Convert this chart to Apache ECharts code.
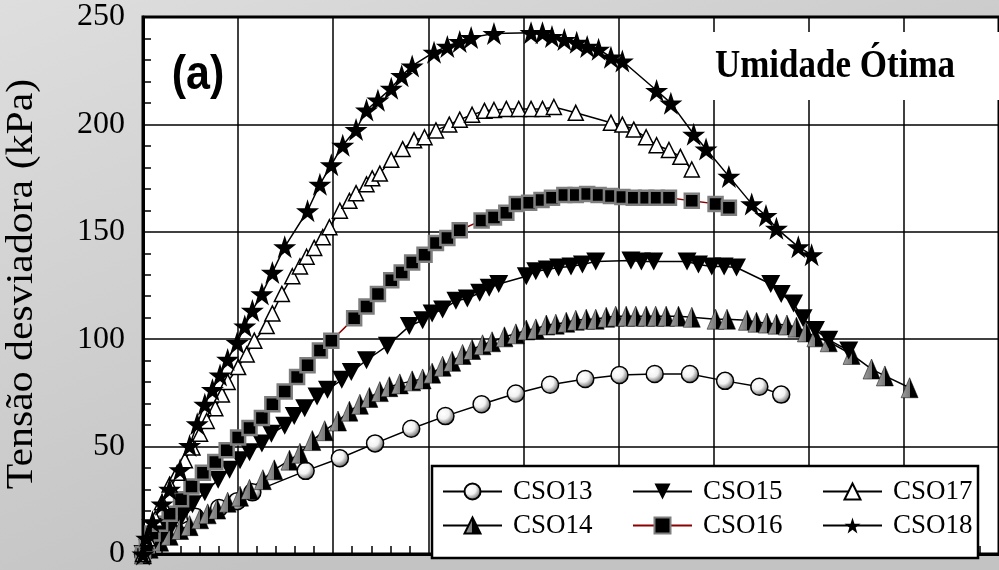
<!DOCTYPE html>
<html>
<head>
<meta charset="utf-8">
<script src="https://cdn.jsdelivr.net/npm/echarts@6/dist/echarts.min.js"></script>
<style>
html,body{margin:0;padding:0;}
#chart{width:999px;height:570px;}
</style>
</head>
<body>
<div id="chart"></div>
<script>
// Tensão desviadora (kPa) vs. deformação (eixo X sem rótulos visíveis)
const seriesNames = ['CSO13','CSO14','CSO15','CSO16','CSO17','CSO18'];
const yTicks = [0, 50, 100, 150, 200, 250];

const cso13 = [[0,0],[0.04,1.4],[0.28,10.9],[0.55,17.3],[0.80,21.4],[0.99,24.6],[1.15,28.7],[1.71,38.7],[2.07,44.6],[2.44,51.5],[2.82,58.3],[3.18,64.2],[3.56,69.7],[3.92,74.7],[4.28,78.8],[4.65,81.5],[5.01,83.3],[5.38,83.8],[5.75,83.8],[6.12,80.6],[6.48,77.9],[6.71,74.2]];

const cso14 = [[0,0],[0.07,2.7],[0.18,5.9],[0.28,8.7],[0.39,11.4],[0.49,13.2],[0.60,16.4],[0.68,18.7],[0.78,20.9],[0.89,24.1],[1.02,26.9],[1.12,30.1],[1.26,34.6],[1.38,39.2],[1.54,43.7],[1.65,46.9],[1.78,52.8],[1.91,57.4],[2.05,61.9],[2.17,66.5],[2.28,69.7],[2.38,72.9],[2.49,75.6],[2.59,77.9],[2.70,79.2],[2.83,80.6],[2.94,81.5],[3.04,84.2],[3.15,87.4],[3.25,89.7],[3.36,92.9],[3.46,95.2],[3.57,97.4],[3.67,98.8],[3.80,101.1],[3.92,102.5],[4.03,104.3],[4.13,104.8],[4.24,106.6],[4.34,107.0],[4.45,107.9],[4.55,108.8],[4.66,109.3],[4.76,109.3],[4.87,110.2],[4.97,110.7],[5.08,110.7],[5.18,110.7],[5.29,110.7],[5.39,110.7],[5.50,110.7],[5.63,110.7],[5.77,110.2],[6.02,109.3],[6.14,109.3],[6.35,108.8],[6.45,107.9],[6.56,107.5],[6.66,107.0],[6.77,106.6],[6.87,105.6],[6.97,103.4],[7.07,101.1],[7.21,98.8],[7.45,92.9],[7.66,86.1],[7.80,82.9],[8.06,77.4]];

const cso15 = [[0,0],[0.05,2.7],[0.13,6.4],[0.21,9.6],[0.30,13.2],[0.41,17.8],[0.52,23.2],[0.65,28.7],[0.79,34.6],[0.91,39.2],[1.02,43.7],[1.12,47.4],[1.25,51.5],[1.35,56.0],[1.49,59.7],[1.59,64.2],[1.70,67.9],[1.83,73.3],[1.94,76.5],[2.09,81.1],[2.19,84.7],[2.35,90.2],[2.57,97.0],[2.80,106.1],[2.94,108.8],[3.04,112.0],[3.15,113.8],[3.29,117.9],[3.41,118.9],[3.54,121.6],[3.64,123.9],[3.74,125.7],[4.03,129.3],[4.13,131.6],[4.25,132.5],[4.37,133.4],[4.50,133.9],[4.62,134.8],[4.76,136.2],[5.13,136.6],[5.24,136.2],[5.37,136.2],[5.72,136.2],[5.84,134.8],[5.98,133.9],[6.11,133.9],[6.24,133.4],[6.60,125.7],[6.71,121.1],[6.84,116.6],[6.94,109.7],[7.07,104.3],[7.21,99.7],[7.42,94.7]];

const cso16 = [[0,0],[0.04,4.1],[0.10,9.6],[0.18,14.1],[0.28,18.7],[0.40,25.5],[0.51,31.4],[0.63,37.8],[0.76,42.8],[0.88,48.3],[1.00,54.2],[1.12,58.7],[1.25,63.3],[1.36,69.7],[1.49,75.6],[1.62,82.4],[1.73,87.9],[1.86,94.7],[1.98,99.3],[2.22,109.7],[2.35,115.2],[2.47,121.1],[2.61,127.5],[2.72,131.1],[2.83,135.7],[2.96,139.3],[3.08,144.8],[3.20,147.1],[3.33,150.7],[3.56,155.3],[3.69,156.6],[3.82,158.9],[3.93,163.0],[4.06,163.5],[4.19,164.8],[4.30,165.8],[4.43,167.1],[4.55,167.1],[4.67,167.6],[4.79,167.1],[4.92,166.7],[5.04,166.2],[5.16,165.8],[5.29,165.8],[5.40,165.8],[5.53,165.8],[5.77,164.4],[6.02,163.0],[6.16,161.2]];

const cso17 = [[0,0],[0.05,7.3],[0.13,16.4],[0.20,24.1],[0.28,32.3],[0.36,37.8],[0.44,43.7],[0.52,49.6],[0.60,56.0],[0.67,61.9],[0.76,67.9],[0.83,74.2],[0.89,80.1],[1.00,87.0],[1.09,92.9],[1.17,99.3],[1.30,106.1],[1.36,112.0],[1.46,121.1],[1.57,129.3],[1.65,133.9],[1.72,138.4],[1.80,142.5],[1.89,147.5],[1.96,152.1],[2.07,159.8],[2.17,164.4],[2.24,168.0],[2.35,172.1],[2.41,174.9],[2.49,177.1],[2.61,183.5],[2.73,188.5],[2.85,192.6],[2.96,194.0],[3.08,197.2],[3.22,199.9],[3.33,202.2],[3.46,204.5],[3.59,206.3],[3.69,206.7],[3.82,207.2],[3.95,207.2],[4.08,207.2],[4.20,207.2],[4.32,208.1],[4.55,205.4],[4.92,200.8],[5.04,199.9],[5.16,197.6],[5.29,194.0],[5.40,190.3],[5.53,188.1],[5.65,184.9],[5.77,179.0]];

const cso18 = [[0,0],[0.04,7.3],[0.10,15.0],[0.20,23.2],[0.28,30.1],[0.39,39.2],[0.49,50.5],[0.57,60.6],[0.65,69.7],[0.73,76.5],[0.81,83.3],[0.89,90.6],[0.99,98.4],[1.07,106.1],[1.15,113.4],[1.25,121.1],[1.36,131.1],[1.49,143.0],[1.73,159.8],[1.86,172.1],[1.98,181.2],[2.10,190.3],[2.24,197.6],[2.35,206.7],[2.47,211.3],[2.61,216.8],[2.72,222.7],[2.83,227.2],[3.06,233.6],[3.20,236.3],[3.33,238.6],[3.45,240.4],[3.69,242.3],[4.08,242.7],[4.20,242.7],[4.30,240.9],[4.43,239.5],[4.56,238.2],[4.67,236.3],[4.79,235.0],[4.92,231.3],[5.04,229.5],[5.40,215.8],[5.55,209.9],[5.79,195.4],[5.92,188.5],[6.16,175.8],[6.40,163.0],[6.55,157.6],[6.66,151.6],[6.89,143.0],[7.03,139.3]];

const chart = echarts.init(document.getElementById('chart'), null, {renderer: 'canvas'});

const SERIF = 'Liberation Serif';
const STAR = 'path://M50,0 L61.8,35.1 L98.1,35.1 L68.8,56.7 L79.4,90.5 L50,69 L20.6,90.5 L31.2,56.7 L1.9,35.1 L38.2,35.1 Z';

const sphere = {type:'radial', x:0.38, y:0.35, r:0.7, colorStops:[
  {offset:0, color:'#ffffff'},{offset:0.45, color:'#f2f2f2'},{offset:0.8, color:'#8a8a8a'},{offset:1, color:'#111'}]};
const halfGray = {type:'linear', x:0, y:0, x2:1, y2:0, colorStops:[
  {offset:0, color:'#a0a0a0'},{offset:0.5, color:'#7a7a7a'},{offset:0.5, color:'#000'},{offset:1, color:'#000'}]};

const blackLine = {color:'#000', width:1.5};

const legendCommon = {
  orient:'vertical', padding:0, itemWidth:59, itemHeight:20, itemGap:7,
  selectedMode:false,
  textStyle:{fontFamily:SERIF, fontSize:27, color:'#000', padding:[0,0,0,6]}
};

const option = {
  animation:false,
  backgroundColor:{type:'linear', x:0, y:0, x2:0.25, y2:1, colorStops:[
    {offset:0, color:'#dedede'},{offset:1, color:'#c3c3c3'}]},
  grid:{left:143, top:17, width:858, height:549, show:true, backgroundColor:'#fff', borderColor:'#000', borderWidth:3},
  xAxis:{
    type:'value', min:0, max:9, interval:1,
    axisLine:{show:true, lineStyle:{color:'#000', width:3}},
    axisTick:{show:false, inside:true},
    minorTick:{show:true, splitNumber:5, length:8, lineStyle:{color:'#000', width:1.5}},
    axisLabel:{show:false},
    splitLine:{show:true, lineStyle:{color:'#000', width:1.5}}
  },
  yAxis:{
    type:'value', min:yTicks[0], max:yTicks[yTicks.length-1], interval:yTicks[1]-yTicks[0],
    axisLine:{show:true, lineStyle:{color:'#000', width:3}},
    axisTick:{show:false, inside:true},
    minorTick:{show:true, splitNumber:5, length:8, lineStyle:{color:'#000', width:1.5}},
    axisLabel:{fontFamily:SERIF, fontSize:32, color:'#000', margin:18, padding:[5,0,0,0],
      verticalAlignMinLabel:'middle', verticalAlignMaxLabel:'middle'},
    splitLine:{show:true, lineStyle:{color:'#000', width:1.5}}
  },
  legend:[
    Object.assign({left:442, top:478, data:[seriesNames[0], seriesNames[1]]}, legendCommon),
    Object.assign({left:632, top:478, data:[seriesNames[2], seriesNames[3]]}, legendCommon),
    Object.assign({left:822, top:478, data:[seriesNames[4], seriesNames[5]]}, legendCommon)
  ],
  graphic:[
    {type:'rect', z:1, shape:{x:690, y:32, width:320, height:68}, style:{fill:'#fff'}},
    {type:'rect', z:3, shape:{x:432, y:466, width:546, height:92}, style:{fill:'#fff', stroke:'#000', lineWidth:2.5}},
    {type:'text', z:5, x:835, y:67, scaleY:1.15,
      style:{text:'Umidade Ótima', font:'bold 35px "Liberation Serif"', fill:'#000', align:'center', verticalAlign:'middle'}},
    {type:'text', z:5, x:198, y:76, scaleY:1.1,
      style:{text:'(a)', font:'bold 43px "Liberation Sans"', fill:'#000', align:'center', verticalAlign:'middle'}},
    {type:'text', z:5, x:22, y:284, rotation:Math.PI/2, scaleX:1.13,
      style:{text:'Tensão desviadora (kPa)', font:'37px "Liberation Serif"', fill:'#000', align:'center', verticalAlign:'middle'}}
  ],
  series:[
    {name:seriesNames[0], type:'line', data:cso13, symbol:'circle', symbolSize:17,
      lineStyle:blackLine, itemStyle:{color:sphere, borderColor:'#000', borderWidth:1.5}, z:3},
    {name:seriesNames[1], type:'line', data:cso14, symbol:'triangle', symbolSize:[17,20],
      lineStyle:blackLine, itemStyle:{color:halfGray, borderColor:'#000', borderWidth:0.5}, z:3},
    {name:seriesNames[2], type:'line', data:cso15, symbol:'triangle', symbolRotate:180, symbolSize:[19,18],
      lineStyle:blackLine, itemStyle:{color:'#000'}, z:3},
    {name:seriesNames[3], type:'line', data:cso16, symbol:'rect', symbolSize:14,
      lineStyle:{color:'#8b0000', width:1.5}, itemStyle:{color:'#000', borderColor:'#7f7f7f', borderWidth:2.5}, z:3},
    {name:seriesNames[4], type:'line', data:cso17, symbol:'triangle', symbolSize:[15,15],
      lineStyle:blackLine, itemStyle:{color:'#fff', borderColor:'#000', borderWidth:1.5}, z:3},
    {name:seriesNames[5], type:'line', data:cso18, symbol:STAR, symbolSize:23,
      lineStyle:blackLine, itemStyle:{color:'#000'}, z:3}
  ]
};
chart.setOption(option);
</script>
</body>
</html>
